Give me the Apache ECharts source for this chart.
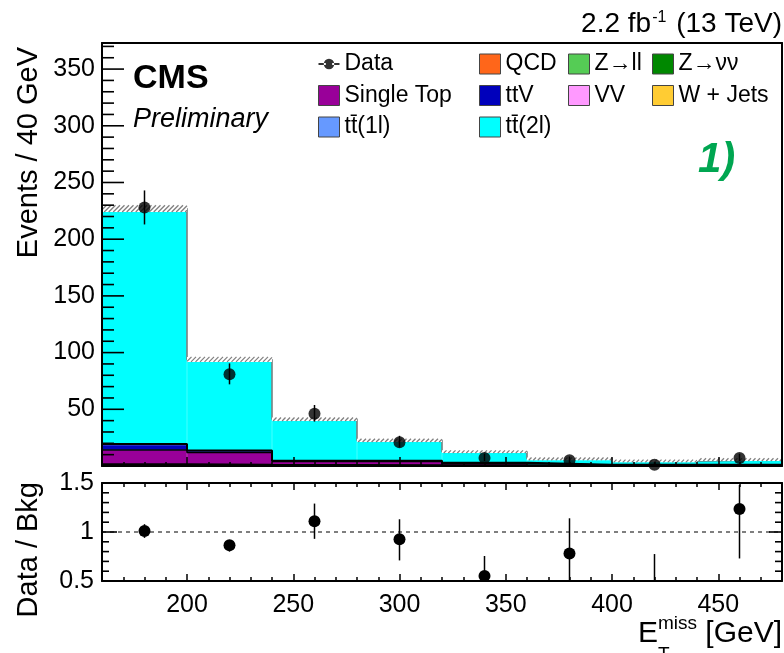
<!DOCTYPE html>
<html><head><meta charset="utf-8">
<script src="https://cdn.jsdelivr.net/npm/echarts@6/dist/echarts.min.js"></script>
<style>html,body{margin:0;padding:0;background:#fff}#c{width:784px;height:653px}</style>
</head><body><div id="c"></div>
<script>
// ---------- data ----------
const binCenters = [180, 220, 260, 300, 340, 380, 420, 460];
const binHalfWidth = 20;
const xMin = 160, xMax = 480;
const xMajorTicks = [200, 250, 300, 350, 400, 450];
const xMinorTicks = [170, 180, 190, 210, 220, 230, 240, 260, 270, 280, 290, 310, 320, 330, 340,
                     360, 370, 380, 390, 410, 420, 430, 440, 460, 470];
const yMainMax = 373;
const yMainMajorTicks = [50, 100, 150, 200, 250, 300, 350];
const yMainLabels = [50, 100, 150, 200, 250, 300, 350];
const yMainMinorTicks = [10, 20, 30, 40, 60, 70, 80, 90, 110, 120, 130, 140, 160, 170, 180, 190,
                         210, 220, 230, 240, 260, 270, 280, 290, 310, 320, 330, 340, 360, 370];
const ratioMajorTicks = [0.5, 1, 1.5];
const ratioMinorTicks = [0.6, 0.7, 0.8, 0.9, 1.1, 1.2, 1.3, 1.4];

const dataCounts  = [228, 81, 46, 21, 7, 5, 1, 7];
const dataErrDown = [15, 9, 6.8, 4.6, 2.6, 2.2, 0.8, 2.6];
const dataErrUp   = [15, 9.5, 7.8, 5.6, 3.8, 3.4, 2.3, 3.8];

const qcd       = [0, 0, 0, 0, 0, 0, 0, 0];
const zll       = [0.2, 0.1, 0.1, 0.1, 0, 0, 0, 0];
const znunu     = [0.5, 0.4, 0.3, 0.3, 0.3, 0.2, 0.2, 0.2];
const vv        = [0.3, 0.2, 0.2, 0.1, 0.1, 0.1, 0.1, 0.1];
const wjets     = [0.5, 0.3, 0.2, 0.2, 0.2, 0.1, 0.1, 0.1];
const singleTop = [12.5, 11.0, 3.2, 3.3, 1.6, 0.5, 0.4, 0.3];
const ttV       = [4.6, 1.2, 0.4, 0.4, 0.4, 0.2, 0.2, 0.2];
const tt1l      = [0.8, 0.4, 0.3, 0.2, 0.2, 0.1, 0.1, 0.1];
const tt2l      = [207.6, 80.4, 36.5, 18.0, 9.8, 5.1, 3.3, 4.6];
const bkgErr    = [3.0, 2.2, 1.5, 1.5, 1.2, 1.2, 1.2, 1.2];

const ratioVal = [1.01, 0.865, 1.11, 0.925, 0.55, 0.78, 0.23, 1.235];
const ratioLo  = [0.94, 0.80, 0.93, 0.71, 0.35, 0.35, 0.05, 0.73];
const ratioHi  = [1.08, 0.91, 1.29, 1.13, 0.755, 1.14, 0.775, 1.48];

// ---------- helpers ----------
const FONT = "'Liberation Sans', Arial, Helvetica, sans-serif";
const components = [
  {name: 'QCD', vals: qcd, color: '#ff661a'},
  {name: 'Z→ll', vals: zll, color: '#55cc55'},
  {name: 'Z→νν', vals: znunu, color: '#008800'},
  {name: 'VV', vals: vv, color: '#ff99ff'},
  {name: 'W + Jets', vals: wjets, color: '#ffcc33'},
  {name: 'Single Top', vals: singleTop, color: '#990099'},
  {name: 'ttV', vals: ttV, color: '#0000bb'},
  {name: 'tt̄(1l)', vals: tt1l, color: '#6699ff'},
  {name: 'tt̄(2l)', vals: tt2l, color: '#00ffff'}
];
function cumulative(upto) {
  return binCenters.map((_, i) => {
    let s = 0;
    for (let k = 0; k <= upto; k++) s += components[k].vals[i];
    return s;
  });
}
function stepPoints(vals) {
  const pts = [];
  binCenters.forEach((c, i) => {
    pts.push([c - binHalfWidth, vals[i]]);
    pts.push([c + binHalfWidth, vals[i]]);
  });
  return pts;
}
const cumOthers = cumulative(4);
const cumSingleTop = cumulative(5);
const cumTTV = cumulative(7);
const cumTotal = cumulative(8);

const barSeries = components.map(c => ({
  name: c.name, type: 'bar', stack: 'bkg', xAxisIndex: 0, yAxisIndex: 0,
  barCategoryGap: '0%', barGap: '0%',
  itemStyle: {color: c.color, borderColor: c.color, borderWidth: 0.6},
  data: c.vals, z: 2, silent: true
}));
function outline(name, vals, color, width, z) {
  return {name, type: 'line', xAxisIndex: 1, yAxisIndex: 0, data: stepPoints(vals),
    symbol: 'none', lineStyle: {color, width}, z, silent: true};
}

const dataIcon = 'path://M0,9L7,9L7,11L0,11Z M13,9L20,9L20,11L13,11Z M5,10A5,5 0 1,0 15,10A5,5 0 1,0 5,10Z';

function legendCol(left, names) {
  return {
    orient: 'vertical', left, top: 52.5, padding: 0, itemGap: 8.5,
    itemWidth: 21, itemHeight: 20, icon: 'rect', selectedMode: false,
    itemStyle: {borderColor: '#444', borderWidth: 1},
    textStyle: {fontFamily: FONT, fontSize: 23, color: '#000', lineHeight: 20, padding: [0, 0, 0, 0]},
    data: names.map(n => n === 'Data'
      ? {name: n, icon: dataIcon, itemStyle: {borderWidth: 0, color: '#000'}}
      : {name: n})
  };
}

function tick(len, values) {
  return {show: true, inside: true, length: len, customValues: values,
    lineStyle: {color: '#000', width: 1.5, opacity: 1}};
}
function frameLine() { return {show: true, onZero: false, lineStyle: {color: '#000', width: 2}}; }
const noLine = {show: false, onZero: false};
const noLabel = {show: false};
const noSplit = {show: false};

function xAx(grid, pos, opts) {
  return Object.assign({type: 'value', gridIndex: grid, min: xMin, max: xMax, position: pos, z: 10,
    axisLine: noLine, axisTick: {show: false}, axisLabel: noLabel, splitLine: noSplit}, opts);
}
function yAx(grid, pos, min, max, opts) {
  return Object.assign({type: 'value', gridIndex: grid, min, max, position: pos, z: 10,
    axisLine: noLine, axisTick: {show: false}, axisLabel: noLabel, splitLine: noSplit}, opts);
}

const textGraphics = [
  {id: 'hdr', type: 'text', x: 782, y: 24, z: 50, style: {
    text: '{n|2.2 fb}{s|-1}{n| (13 TeV)}', align: 'right', verticalAlign: 'middle', fill: '#000',
    rich: {n: {fontFamily: FONT, fontSize: 28, color: '#000'},
           s: {fontFamily: FONT, fontSize: 16, color: '#000', verticalAlign: 'top', padding: [0, 2, 0, 1]}}}},
  {id: 'cms', type: 'text', x: 133, y: 79, z: 50, style: {text: 'CMS', fontFamily: FONT, fontSize: 34, fontWeight: 'bold',
    fill: '#000', align: 'left', verticalAlign: 'middle'}},
  {id: 'prel', type: 'text', x: 133, y: 119, z: 50, style: {text: 'Preliminary', fontFamily: FONT, fontSize: 27, fontStyle: 'italic',
    fill: '#000', align: 'left', verticalAlign: 'middle'}},
  {id: 'one', type: 'text', x: 698, y: 160, z: 50, style: {text: '1)', fontFamily: FONT, fontSize: 42, fontStyle: 'italic', fontWeight: 'bold',
    fill: '#00a651', align: 'left', verticalAlign: 'middle'}},
  {id: 'ytitle', type: 'text', x: 29, y: 47, z: 50, rotation: Math.PI / 2, style: {text: 'Events / 40 GeV', fontFamily: FONT, fontSize: 29,
    fill: '#000', align: 'right', verticalAlign: 'middle'}},
  {id: 'rtitle', type: 'text', x: 29, y: 482, z: 50, rotation: Math.PI / 2, style: {text: 'Data / Bkg', fontFamily: FONT, fontSize: 29,
    fill: '#000', align: 'right', verticalAlign: 'middle'}},
  {id: 'xE', type: 'text', x: 638, y: 634, z: 50, style: {text: 'E', fontFamily: FONT, fontSize: 30, fill: '#000', align: 'left', verticalAlign: 'middle'}},
  {id: 'xmiss', type: 'text', x: 658, y: 624, z: 50, style: {text: 'miss', fontFamily: FONT, fontSize: 19, fill: '#000', align: 'left', verticalAlign: 'middle'}},
  {id: 'xT', type: 'text', x: 658, y: 655, z: 50, style: {text: 'T', fontFamily: FONT, fontSize: 19, fill: '#000', align: 'left', verticalAlign: 'middle'}},
  {id: 'xGeV', type: 'text', x: 782, y: 634, z: 50, style: {text: '[GeV]', fontFamily: FONT, fontSize: 30, fill: '#000', align: 'right', verticalAlign: 'middle'}}
];

const option = {
  animation: false,
  backgroundColor: '#fff',
  grid: [
    {left: 102, top: 43, width: 680, height: 423, outerBoundsMode: 'none', containLabel: false},
    {left: 102, top: 483, width: 680, height: 98, outerBoundsMode: 'none', containLabel: false}
  ],
  legend: [
    legendCol(318, ['Data', 'Single Top', 'tt̄(1l)']),
    legendCol(479, ['QCD', 'ttV', 'tt̄(2l)']),
    legendCol(568, ['Z→ll', 'VV']),
    legendCol(652, ['Z→νν', 'W + Jets'])
  ],
  xAxis: [
    {type: 'category', gridIndex: 0, data: binCenters, show: false, boundaryGap: true},      // 0 bars
    xAx(0, 'bottom', {axisLine: frameLine(), axisTick: tick(9, xMajorTicks)}),                // 1 main
    xAx(0, 'bottom', {axisTick: tick(4, xMinorTicks)}),                                       // 2 main minor
    xAx(0, 'top', {axisLine: frameLine()}),                                                   // 3 main top
    xAx(1, 'bottom', {axisLine: frameLine(), axisTick: tick(7, xMajorTicks),                  // 4 ratio
      axisLabel: {show: true, customValues: xMajorTicks, margin: 12, fontFamily: FONT, fontSize: 25, color: '#000'}}),
    xAx(1, 'bottom', {axisTick: tick(4, xMinorTicks)}),                                       // 5 ratio minor
    xAx(1, 'top', {axisLine: frameLine(), axisTick: tick(7, xMajorTicks)}),                   // 6 ratio top
    xAx(1, 'top', {axisTick: tick(4, xMinorTicks)})                                           // 7 ratio top minor
  ],
  yAxis: [
    yAx(0, 'left', 0, yMainMax, {axisLine: frameLine(),                                      // 0 main left
      axisLabel: {show: true, customValues: yMainLabels, margin: 7, fontFamily: FONT, fontSize: 25, color: '#000'}}),
    yAx(0, 'right', 0, yMainMax, {axisLine: frameLine()}),                                   // 1 main right
    yAx(1, 'left', 0.5, 1.5, {axisLine: frameLine(),                                         // 2 ratio left
      axisLabel: {show: true, customValues: ratioMajorTicks, margin: 8, fontFamily: FONT, fontSize: 25, color: '#000'}}),
    yAx(1, 'right', 0.5, 1.5, {axisLine: frameLine()})                                       // 3 ratio right
  ],
  series: [
    ...barSeries,
    outline('outlineOthers', cumOthers, '#000', 2, 3),
    outline('outlineSingleTop', cumSingleTop, '#000', 1.5, 3),
    outline('outlineTTV', cumTTV, '#000', 2, 3),
    outline('outlineTotal', cumTotal, '#777', 1.5, 3),
    {
      name: 'bkgUnc', type: 'custom', xAxisIndex: 1, yAxisIndex: 0, z: 4, silent: true,
      data: binCenters.map((c, i) => [c, cumTotal[i], bkgErr[i]]),
      renderItem: function (params, api) {
        const c = api.value(0), t = api.value(1), e = api.value(2);
        const tl = api.coord([c - binHalfWidth, t + e]);
        const br = api.coord([c + binHalfWidth, t - e]);
        const x0 = tl[0], x1 = br[0], y0 = tl[1], y1 = br[1];
        const h = y1 - y0;
        const children = [{type: 'rect', shape: {x: x0, y: y0, width: x1 - x0, height: h}, style: {fill: '#fff'}}];
        const step = 4.5;
        for (let t0 = x0 - h; t0 < x1; t0 += step) {
          const s0 = Math.max(0, (x0 - t0) / h), s1 = Math.min(1, (x1 - t0) / h);
          if (s1 <= s0) continue;
          children.push({type: 'line',
            shape: {x1: t0 + s0 * h, y1: y1 - s0 * h, x2: t0 + s1 * h, y2: y1 - s1 * h},
            style: {stroke: '#808080', lineWidth: 1.3}});
        }
        return {type: 'group', children};
      }
    },
    {
      name: 'DataErr', type: 'custom', xAxisIndex: 1, yAxisIndex: 0, z: 5, silent: true,
      data: binCenters.map((c, i) => [c, dataCounts[i] - dataErrDown[i], dataCounts[i] + dataErrUp[i]]),
      renderItem: function (params, api) {
        const a = api.coord([api.value(0), api.value(1)]);
        const b = api.coord([api.value(0), api.value(2)]);
        return {type: 'line', shape: {x1: a[0], y1: a[1], x2: b[0], y2: b[1]}, style: {stroke: '#000', lineWidth: 1.5}};
      }
    },
    {
      name: 'Data', type: 'scatter', xAxisIndex: 1, yAxisIndex: 0, z: 6, silent: true,
      symbol: 'circle', symbolSize: 12, itemStyle: {color: '#000'},
      data: binCenters.map((c, i) => [c, dataCounts[i]])
    },
    {
      name: 'unity', type: 'line', xAxisIndex: 4, yAxisIndex: 2, z: 2, silent: true,
      data: [[xMin, 1], [xMax, 1]], symbol: 'none',
      lineStyle: {color: '#000', width: 1.2, type: [4, 4]}
    },
    {
      name: 'Ratio', type: 'custom', xAxisIndex: 4, yAxisIndex: 2, z: 5, silent: true, clip: true,
      data: binCenters.map((c, i) => [c, ratioVal[i], ratioLo[i], ratioHi[i]]),
      renderItem: function (params, api) {
        const c = api.value(0);
        const p = api.coord([c, api.value(1)]);
        const lo = api.coord([c, api.value(2)]);
        const hi = api.coord([c, api.value(3)]);
        return {type: 'group', children: [
          {type: 'line', shape: {x1: lo[0], y1: lo[1], x2: hi[0], y2: hi[1]}, style: {stroke: '#000', lineWidth: 1.5}},
          {type: 'circle', shape: {cx: p[0], cy: p[1], r: 6}, style: {fill: '#000'}}
        ]};
      }
    }
  ],
  graphic: textGraphics
};

const chart = echarts.init(document.getElementById('c'), null, {renderer: 'canvas', width: 784, height: 653});
chart.setOption(option);

// y-axis tick marks: positions come from the library's own axis scales
function yTicks(prefix, xAxisIndex, xValue, yAxisIndex, values, side, len) {
  const xp = chart.convertToPixel({xAxisIndex: xAxisIndex}, xValue);
  return values.map((v, i) => {
    const yp = chart.convertToPixel({yAxisIndex: yAxisIndex}, v);
    const x = side === 'left' ? xp : xp - len;
    return {id: prefix + i, type: 'rect', z: 60, silent: true,
      shape: {x: x, y: yp - 0.8, width: len, height: 1.6}, style: {fill: '#000'}};
  });
}
const tickGraphics = [].concat(
  yTicks('ym', 1, xMin, 0, yMainMajorTicks, 'left', 22),
  yTicks('yn', 1, xMin, 0, yMainMinorTicks, 'left', 12),
  yTicks('rm', 4, xMin, 2, ratioMajorTicks, 'left', 15),
  yTicks('rn', 4, xMin, 2, ratioMinorTicks, 'left', 7),
  yTicks('qm', 4, xMax, 2, ratioMajorTicks, 'right', 13),
  yTicks('qn', 4, xMax, 2, ratioMinorTicks, 'right', 7)
);
chart.setOption({graphic: textGraphics.concat(tickGraphics)});
</script>
</body></html>
